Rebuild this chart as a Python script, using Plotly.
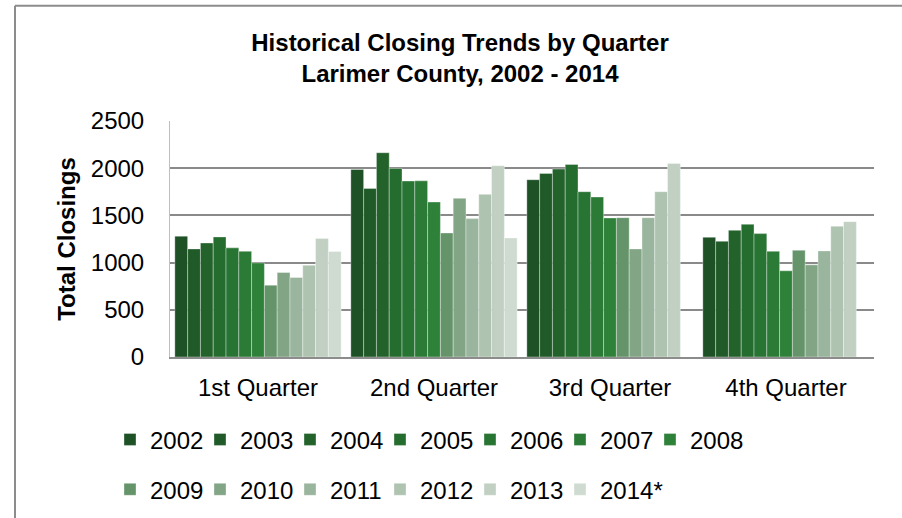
import plotly.graph_objects as go

quarters = ["1st Quarter", "2nd Quarter", "3rd Quarter", "4th Quarter"]
years = ["2002", "2003", "2004", "2005", "2006", "2007", "2008",
         "2009", "2010", "2011", "2012", "2013", "2014*"]

v2002 = [1280, 1987, 1878, 1268]
v2003 = [1145, 1786, 1945, 1226]
v2004 = [1208, 2164, 1991, 1342]
v2005 = [1272, 1998, 2040, 1406]
v2006 = [1156, 1864, 1751, 1307]
v2007 = [1120, 1866, 1695, 1120]
v2008 = [997, 1642, 1473, 913]
v2009 = [761, 1314, 1476, 1131]
v2010 = [895, 1681, 1145, 976]
v2011 = [842, 1466, 1476, 1124]
v2012 = [972, 1723, 1751, 1385]
v2013 = [1254, 2026, 2051, 1434]
v2014 = [1117, 1261, None, None]

series = [v2002, v2003, v2004, v2005, v2006, v2007, v2008,
          v2009, v2010, v2011, v2012, v2013, v2014]

colors = ["#1E5126", "#205A28", "#23632B", "#256C2F", "#287433", "#2B7A36", "#2E8139",
          "#65946A", "#82A585", "#9AB59D", "#AFC3B1", "#C1D0C2", "#CFDBD0"]

FONT = "Liberation Sans, Arial, sans-serif"

fig = go.Figure()
for i, (yr, vals, col) in enumerate(zip(years, series, colors)):
    fig.add_trace(go.Bar(
        name=yr, x=quarters, y=vals,
        marker=dict(color=col, line=dict(color="rgba(255,255,255,0.35)", width=1)),
        legend="legend" if i < 7 else "legend2",
    ))

# empty spacer entries so the last legend label of each row is not clipped
for lg in ["legend", "legend2"]:
    fig.add_trace(go.Scatter(
        x=[None], y=[None], name=" ", mode="markers",
        marker=dict(color="rgba(0,0,0,0)"), legend=lg, hoverinfo="skip",
    ))

# plot area in pixels: x 170..874, y 120.5..357
L, R, T, B = 170, 874, 120.5, 357
W, H = R - L, B - T
def px_x(p):
    return (p - L) / W
def px_y(p):
    return (B - p) / H

legend_common = dict(
    orientation="h", xanchor="left", yanchor="middle",
    font=dict(family=FONT, size=24, color="#000000"),
    bgcolor="rgba(0,0,0,0)", entrywidth=45, entrywidthmode="pixels",
    traceorder="normal", itemclick=False, itemdoubleclick=False,
)

fig.update_layout(
    width=902, height=518,
    margin=dict(l=L, r=902 - R, t=T, b=518 - B, pad=0, autoexpand=False),
    paper_bgcolor="white", plot_bgcolor="white",
    barmode="group", bargap=0.055, bargroupgap=0,
    title=dict(
        text="<b>Historical Closing Trends by Quarter<br>Larimer County, 2002 - 2014</b>",
        x=460 / 902, xanchor="center", y=1 - 51 / 518, yanchor="middle",
        font=dict(family=FONT, size=24, color="#000000"),
    ),
    font=dict(family=FONT, size=24, color="#000000"),
    legend=dict(x=px_x(110), y=px_y(440), **legend_common),
    legend2=dict(x=px_x(110), y=px_y(490), **legend_common),
    xaxis=dict(
        showgrid=False, showline=True, linecolor="#8C8C8C", linewidth=2,
        ticks="outside", ticklen=8, tickcolor="rgba(0,0,0,0)",
        tickfont=dict(family=FONT, size=24, color="#000000"),
    ),
    yaxis=dict(
        range=[0, 2500], dtick=500, showgrid=True, gridcolor="#8A8A8A", gridwidth=2,
        showline=True, linecolor="#BFBFBF", linewidth=1, zeroline=False,
        ticks="outside", ticklen=20, tickcolor="rgba(0,0,0,0)",
        tickfont=dict(family=FONT, size=24, color="#000000"),
        title=dict(text="<b>Total Closings</b>", standoff=8,
                   font=dict(family=FONT, size=24, color="#000000")),
    ),
    shapes=[
        dict(type="line", xref="paper", yref="paper",
             x0=px_x(15), x1=px_x(1000), y0=px_y(5), y1=px_y(5),
             line=dict(color="#8C8C8C", width=2)),
        dict(type="line", xref="paper", yref="paper",
             x0=px_x(15), x1=px_x(15), y0=px_y(5), y1=px_y(700),
             line=dict(color="#8C8C8C", width=2)),
    ],
)

fig.write_html("out.html", config={"displayModeBar": False},
               post_script="document.body.style.margin='0px';")
